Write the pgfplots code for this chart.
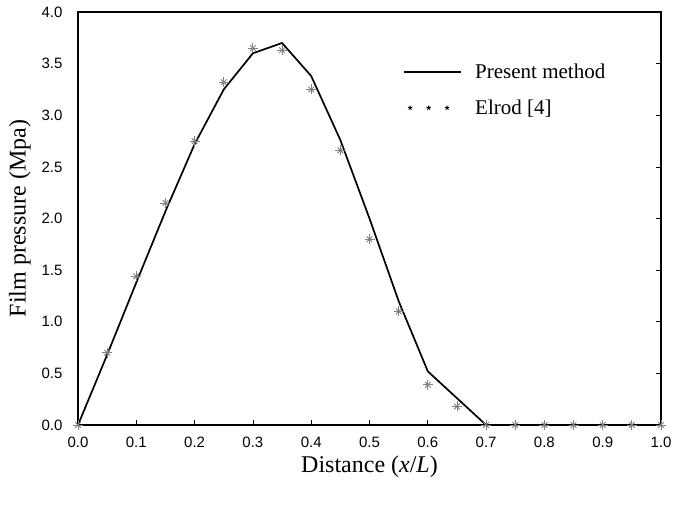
\documentclass[border=0pt]{standalone}
\usepackage{fontspec}
\setmainfont{Liberation Serif}
\setsansfont{Liberation Sans}
\usepackage{pgfplots}
\pgfplotsset{compat=1.18}
\begin{document}
\begin{tikzpicture}
\begin{axis}[
    width=583pt, height=413pt, scale only axis,
    xmin=0, xmax=1, ymin=0, ymax=4,
    xtick={0,0.1,...,1.01}, ytick={0,0.5,...,4.01},
    tick align=inside,
    xtick pos=bottom, ytick pos=right, yticklabel pos=left,
    major tick length=5pt,
    axis line style={line width=1.3pt},
    tick style={line width=0.7pt, black},
    /pgf/number format/assume math mode=true,
    /pgf/number format/.cd, fixed, fixed zerofill, precision=1, /pgfplots/.cd,
    tick label style={font=\sffamily\fontsize{15}{17}\selectfont},
    xticklabel style={yshift=-8pt},
    yticklabel style={xshift=-12pt},
    xlabel={Distance (\textit{x}/\textit{L})},
    ylabel={Film pressure (Mpa)},
    label style={font=\fontsize{24}{26}\selectfont},
    xlabel style={yshift=-2pt},
    ylabel style={yshift=4pt},
    legend style={draw=none, fill=none, at={(0.553,0.885)}, anchor=north west,
        font=\fontsize{21}{23}\selectfont, row sep=16pt,
        /tikz/every odd column/.append style={column sep=11pt}},
    legend cell align=left,
    legend image code/.code={\draw[#1] (0cm,0cm) -- (2cm,0cm);},
    clip=false,
]
\addplot[black, line width=1.7pt] coordinates {
(0,0) (0.05,0.68) (0.1,1.38) (0.15,2.07) (0.2,2.72) (0.25,3.25) (0.3,3.6)
(0.35,3.7) (0.4,3.38) (0.45,2.76) (0.5,2.0) (0.55,1.2) (0.6,0.52) (0.65,0.26)
(0.7,0) (0.75,0) (0.8,0) (0.85,0) (0.9,0) (0.95,0) (1.0,0)};
\addlegendentry{Present method}
\addplot[only marks, mark=+, gray, mark size=5pt, line width=0.9pt,
    legend image code/.code={
        \draw[black, mark=star, mark size=2.3pt, only marks]
        plot coordinates {(0.2cm,0cm) (0.85cm,0cm) (1.5cm,0cm)};}]
coordinates {
(0,0) (0.05,0.7) (0.1,1.44) (0.15,2.15) (0.2,2.75) (0.25,3.32) (0.3,3.65)
(0.35,3.63) (0.4,3.25) (0.45,2.66) (0.5,1.8) (0.55,1.1) (0.6,0.39) (0.65,0.18)
(0.7,0) (0.75,0) (0.8,0) (0.85,0) (0.9,0) (0.95,0) (1.0,0)};
\addlegendentry{Elrod [4]}
\addplot[only marks, mark=x, gray, mark size=4pt, line width=0.9pt, forget plot]
coordinates {
(0,0) (0.05,0.7) (0.1,1.44) (0.15,2.15) (0.2,2.75) (0.25,3.32) (0.3,3.65)
(0.35,3.63) (0.4,3.25) (0.45,2.66) (0.5,1.8) (0.55,1.1) (0.6,0.39) (0.65,0.18)
(0.7,0) (0.75,0) (0.8,0) (0.85,0) (0.9,0) (0.95,0) (1.0,0)};
\coordinate (sw) at (rel axis cs:0,0);
\end{axis}
\path (sw) ++(-78pt,-87pt) rectangle ++(676pt,512pt);
\end{tikzpicture}
\end{document}
